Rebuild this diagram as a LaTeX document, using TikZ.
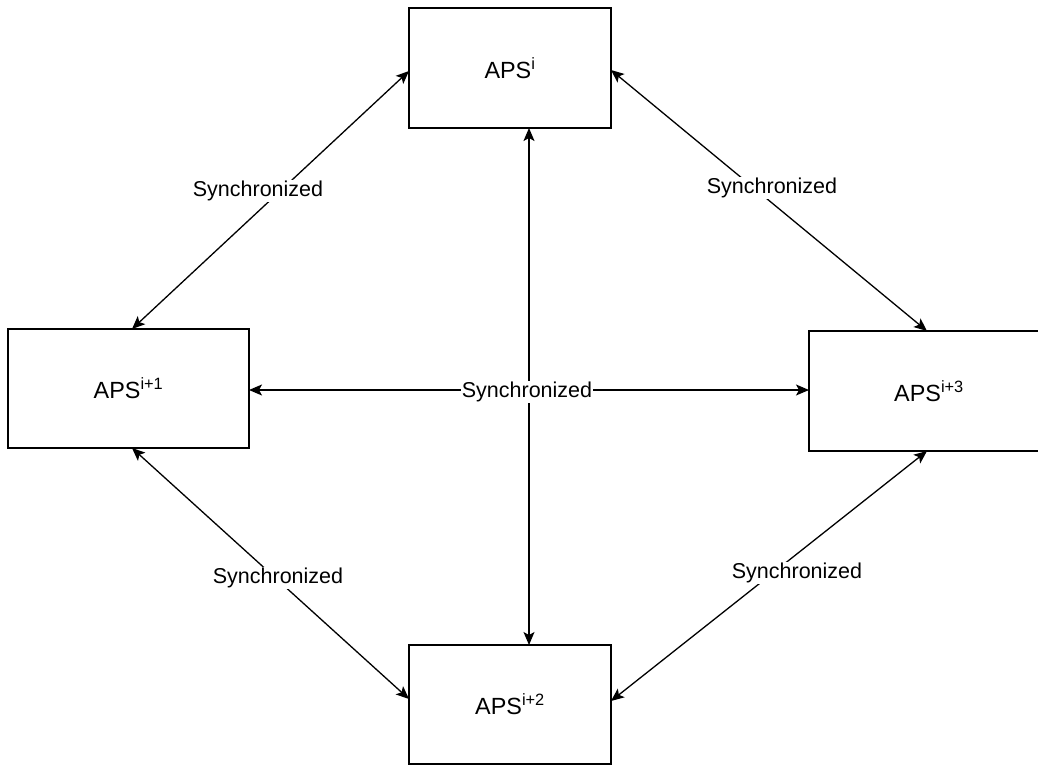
\documentclass[tikz,border=0pt]{standalone}
\usepackage{fontspec}
\setmainfont{Liberation Sans}
\usetikzlibrary{arrows.meta}
\begin{document}
\begin{tikzpicture}[x=1pt,y=-1pt,
  apsbox/.style={draw=black, line width=1.4pt, fill=white, inner sep=0pt,
    font=\fontsize{23.4}{28}\selectfont},
  link/.style={line width=1.3pt, {Stealth[length=13pt,width=11pt,inset=3pt]}-{Stealth[length=13pt,width=11pt,inset=3pt]}},
  lbl/.style={fill=white, inner sep=1pt, font=\fontsize{21.5}{25}\selectfont}
]
\useasboundingbox (0,0) rectangle (1038,766);
\clip (0,0) rectangle (1038,766);
\fill[white] (0,0) rectangle (1038,766);

\node[apsbox, minimum width=202pt, minimum height=120pt] (top) at (510,68) {APS\textsuperscript{i}};
\node[apsbox, minimum width=241pt, minimum height=119pt] (left) at (128.5,388.5) {APS\textsuperscript{i+1}};
\node[apsbox, minimum width=240pt, minimum height=120pt] (right) at (929,391) {APS\textsuperscript{i+3}};
\node[apsbox, minimum width=202pt, minimum height=119pt] (bot) at (510,704.5) {APS\textsuperscript{i+2}};

\coordinate (tW) at (409,71);
\coordinate (tE) at (611,70);
\coordinate (tS) at (529,128);
\coordinate (lN) at (132,329);
\coordinate (lS) at (132,448);
\coordinate (lE) at (249,390);
\coordinate (rN) at (927,331);
\coordinate (rS) at (927,451);
\coordinate (rW) at (809,390);
\coordinate (bN) at (529,645);
\coordinate (bW) at (409,699);
\coordinate (bE) at (611,701);

\draw[link] (tW) -- (lN);
\draw[link] (tE) -- (rN);
\draw[link] (lS) -- (bW);
\draw[link] (rS) -- (bE);
\draw[link] (tS) -- (bN);
\draw[link] (lE) -- (rW);

\node[lbl] (l1) at (258,191) {Synchronized};
\node[lbl] (l2) at (772,188) {Synchronized};
\node[lbl] (l3) at (278,578) {Synchronized};
\node[lbl] (l4) at (797,573) {Synchronized};
\node[lbl] (l5) at (527,392) {Synchronized};
\end{tikzpicture}
\end{document}
